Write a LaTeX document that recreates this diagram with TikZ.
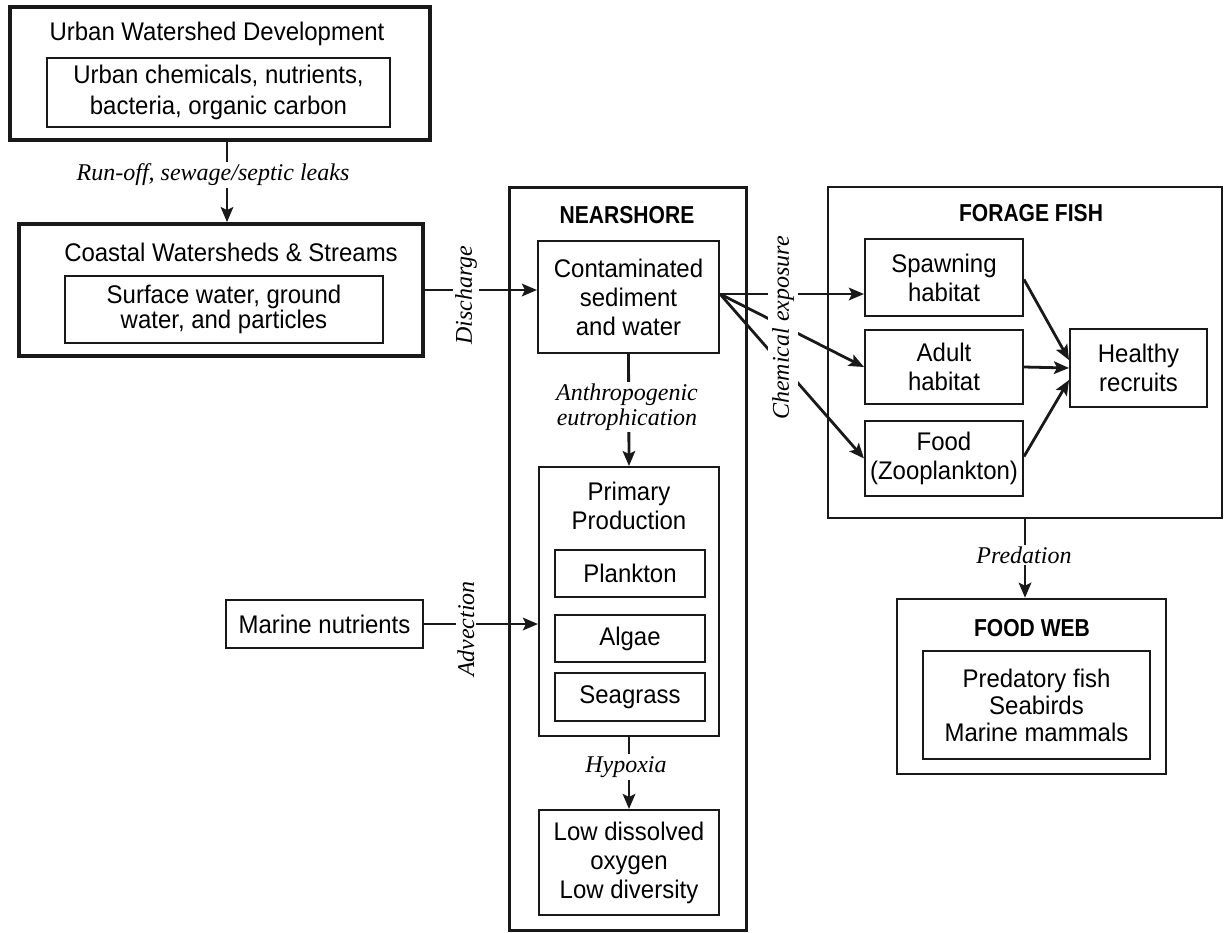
\documentclass[tikz,border=0pt]{standalone}
\usetikzlibrary{arrows.meta}
\usepackage{xcolor}
\usepackage{fontspec}
\setmainfont[FakeStretch=0.94]{Liberation Sans}
\newfontfamily\labelfont{Liberation Serif}
\newfontfamily\headfont[FakeStretch=0.86]{Liberation Sans}

\begin{document}
\begin{tikzpicture}[x=1pt, y=-1pt,
        font=\fontsize{25.5}{29}\selectfont,
        box/.style={draw=black!90, line width=2pt, align=center, inner sep=0pt},
        bigbox/.style={draw=black!90, line width=3.8pt, inner sep=0pt},
        headline/.style={font=\headfont\bfseries\fontsize{24.5}{29}\selectfont},
        flow/.style={draw=black!90, line width=2.8pt, -{Stealth[length=15pt,width=12.5pt,inset=3pt]}},
        lbl/.style={font=\labelfont\itshape\fontsize{24}{25}\selectfont, fill=white, inner sep=2pt, align=center}]
        \useasboundingbox (0,0) rectangle (1226,932);

        % watershed boxes
        \node[bigbox, minimum width=420pt, minimum height=133pt] (uwd) at (220,73.5) {};
        \node (uwdtitle) at (217,34) {Urban Watershed Development};
        \node[box, minimum width=343pt, minimum height=69pt, font=\fontsize{25.5}{31}\selectfont] (uwdin) at (218.5,92.5) {Urban chemicals, nutrients,\\bacteria, organic carbon};

        \node[bigbox, minimum width=404pt, minimum height=132pt] (coastal) at (221,290) {};
        \node (coastaltitle) at (231,252) {Coastal Watersheds \& Streams};
        \node[box, minimum width=318pt, minimum height=67pt, font=\fontsize{25.5}{25}\selectfont] (coastalin) at (224,309.5) {Surface water, ground\\water, and particles};

        \node[box, minimum width=197pt, minimum height=48pt] (marine) at (324.5,624) {Marine nutrients};

        % nearshore
        \node[bigbox, line width=3pt, minimum width=237pt, minimum height=743pt] (near) at (627.5,558.5) {};
        \node[headline] (neartitle) at (627,215) {NEARSHORE};
        \node[box, minimum width=181pt, minimum height=112pt] (contam) at (628.5,297) {Contaminated\\sediment\\and water};
        \node[box, minimum width=180pt, minimum height=269pt] (pp) at (629,601.5) {};
        \node[align=center] (pptext) at (629,506) {Primary\\Production};
        \node[box, minimum width=150pt, minimum height=47pt] (plankton) at (630,573.5) {Plankton};
        \node[box, minimum width=150pt, minimum height=47pt] (algae) at (630,638.5) {Algae};
        \node[box, minimum width=150pt, minimum height=48pt] (seagrass) at (630,697) {Seagrass};
        \node[box, minimum width=180pt, minimum height=105pt] (low) at (629,862.5) {Low dissolved\\oxygen\\Low diversity};

        % forage fish
        \node[box, minimum width=394pt, minimum height=331pt] (forage) at (1025,352.5) {};
        \node[headline] (foragetitle) at (1031,213) {FORAGE FISH};
        \node[box, minimum width=158pt, minimum height=77pt] (spawn) at (944,277.5) {Spawning\\habitat};
        \node[box, minimum width=158pt, minimum height=74pt] (adult) at (944,367) {Adult\\habitat};
        \node[box, minimum width=158pt, minimum height=75pt] (food) at (944,458.5) {Food\\(Zooplankton)};
        \node[box, minimum width=137pt, minimum height=78pt] (healthy) at (1138.5,368) {Healthy\\recruits};

        % food web
        \node[box, line width=2.5pt, minimum width=269pt, minimum height=175pt] (fweb) at (1031.5,686.5) {};
        \node[headline] (fwebtitle) at (1032,628) {FOOD WEB};
        \node[box, minimum width=227pt, minimum height=108pt, font=\fontsize{25.5}{27}\selectfont] (fwebin) at (1036.5,705) {Predatory fish\\Seabirds\\Marine mammals};

        % connectors
        \coordinate (fan) at ([yshift=3pt]contam.east);
        \draw[flow] ([xshift=7pt]uwd.south) -- ([xshift=7pt]uwd.south |- coastal.north);
        \draw[flow] (coastal.east) -- (coastal.east -| contam.west);
        \draw[flow] (contam.south) -- (pp.north);
        \draw[flow] (pp.south) -- (low.north);
        \draw[flow] (marine.east) -- (marine.east -| pp.west);
        \draw[flow] (fan) -- (fan -| spawn.west);
        \draw[flow] (fan) -- (adult.west);
        \draw[flow] (fan) -- (food.west);
        \draw[flow] ([yshift=-2pt]spawn.east) -- ([yshift=8pt]healthy.west);
        \draw[flow] (adult.east) -- (healthy.west);
        \draw[flow] ([yshift=2pt]food.east) -- ([yshift=-12pt]healthy.west);
        \draw[flow] (forage.south) -- (forage.south |- fweb.north);

        % connector labels
        \node[lbl] (runoff) at (213,175) {Run-off, sewage/septic leaks};
        \node[lbl, rotate=90] (discharge) at (466,295) {Discharge};
        \node[lbl, rotate=90, inner sep=4pt] (chem) at (783,328) {Chemical exposure};
        \node[lbl] (eutro) at (627,407) {Anthropogenic\\eutrophication};
        \node[lbl, rotate=90] (advection) at (466,629) {Advection};
        \node[lbl] (hypoxia) at (626,767) {Hypoxia};
        \node[lbl] (predation) at (1024,555) {Predation};
\end{tikzpicture}
\end{document}
